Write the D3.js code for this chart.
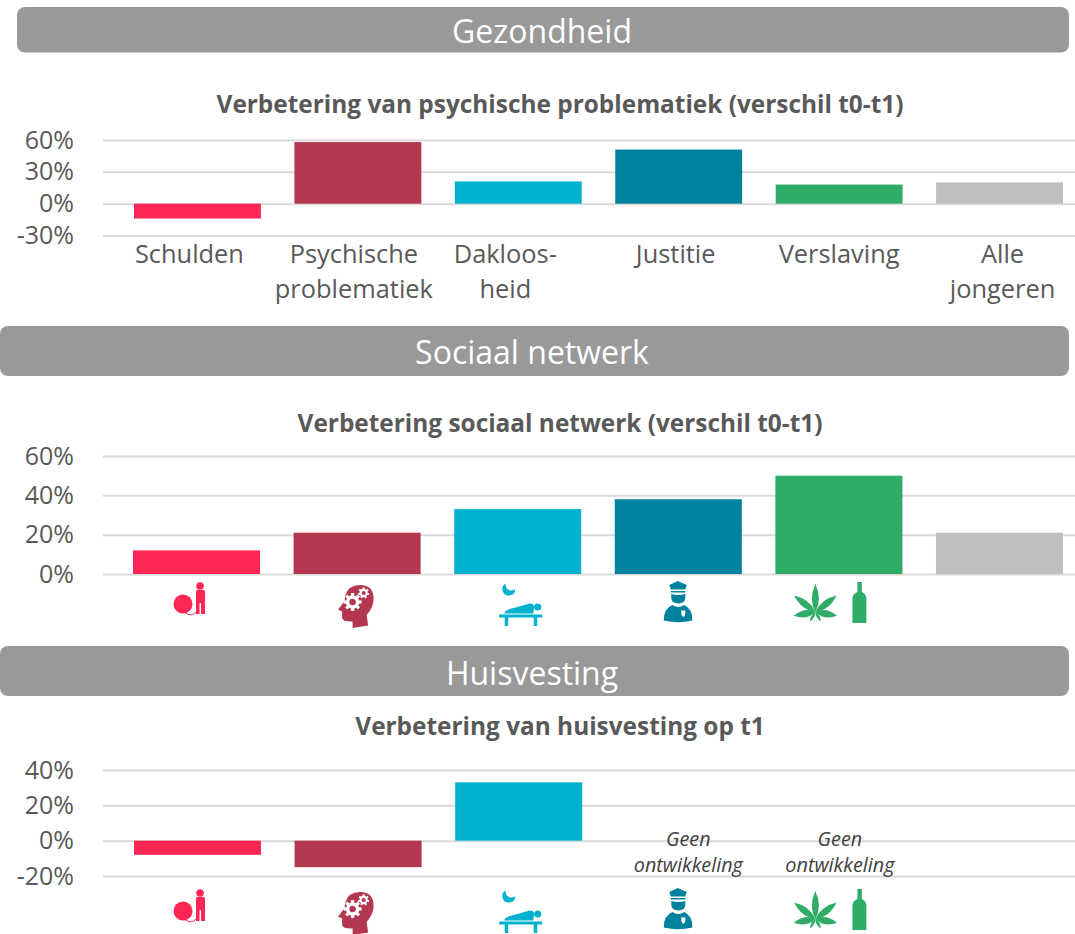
<!DOCTYPE html>
<html>
<head>
<meta charset="utf-8">
<script src="https://d3js.org/d3.v7.min.js"></script>
<style>
html, body { margin: 0; padding: 0; background: #fff; }
svg { display: block; font-family: "Open Sans", sans-serif; }
</style>
</head>
<body>
<svg id="chart" width="1075" height="934"></svg>
<script>
// data
const groups = ["Schulden", "Psychische problematiek", "Dakloosheid", "Justitie", "Verslaving", "Alle jongeren"];
const groupColors = ["#ff2655", "#b2374f", "#00b2ce", "#00829f", "#2fad68", "#bfbfbf"];
const groupLabels = [["Schulden"], ["Psychische", "problematiek"], ["Dakloos-", "heid"], ["Justitie"], ["Verslaving"], ["Alle", "jongeren"]];

const psychischeValues = [-14, 58, 21, 51, 18, 20];
const psychischeTicks = [60, 30, 0, -30];

const netwerkValues = [12, 21, 33, 38, 50, 21];
const netwerkTicks = [60, 40, 20, 0];

const huisvestingValues = [-8, -15, 33, null, null, null];
const huisvestingTicks = [40, 20, 0, -20];

const noDevelopmentLabel = ["Geen", "ontwikkeling"];
const noDevelopmentGroups = ["Justitie", "Verslaving"];

const svg = d3.select("#chart");
const textColor = "#595959";

// grey section bars
function header(text, x0, y0, x1, y1, textX, textY) {
  svg.append("rect").attr("x", x0).attr("y", y0).attr("width", x1 - x0).attr("height", y1 - y0)
    .attr("rx", 8).attr("fill", "#999999");
  svg.append("text").attr("x", textX).attr("y", textY).attr("text-anchor", "middle")
    .attr("dominant-baseline", "central").attr("fill", "#fff").attr("font-size", 32).text(text);
}

function title(text, x, y) {
  svg.append("text").attr("x", x).attr("y", y).attr("text-anchor", "middle")
    .attr("dominant-baseline", "central").attr("fill", textColor)
    .attr("font-size", 24.4).attr("font-weight", 700).text(text);
}

function barChart(values, ticks, xRange, yRange) {
  const x = d3.scaleBand().domain(groups).range(xRange).paddingInner(0.209).paddingOuter(0);
  const y = d3.scaleLinear().domain([ticks[ticks.length - 1], ticks[0]]).range(yRange);

  const axis = d3.axisLeft(y).tickValues(ticks).tickFormat(d => d + "%").tickSize(-972).tickPadding(29);
  const g = svg.append("g").attr("transform", "translate(103,0)").call(axis);
  g.select(".domain").remove();
  g.selectAll(".tick line").attr("stroke", "#d9d9d9").attr("stroke-width", 2);
  g.selectAll(".tick text").attr("fill", textColor).attr("font-size", 25)
    .attr("font-family", '"Open Sans", sans-serif');

  svg.append("g").selectAll("rect")
    .data(values.map((v, i) => ({ v, i })).filter(d => d.v !== null))
    .join("rect")
    .attr("x", d => x(groups[d.i]))
    .attr("y", d => Math.min(y(d.v), y(0)))
    .attr("width", x.bandwidth())
    .attr("height", d => Math.abs(y(d.v) - y(0)))
    .attr("fill", d => groupColors[d.i]);
  return x;
}

// icons, drawn around the middle of each band
function gear(g, cx, cy, r, teeth) {
  g.append("circle").attr("cx", cx).attr("cy", cy).attr("r", r * 0.62)
    .attr("fill", "none").attr("stroke", "#fff").attr("stroke-width", r * 0.42);
  d3.range(teeth).forEach(i => {
    g.append("rect").attr("x", cx - r * 0.2).attr("y", cy - r * 1.12)
      .attr("width", r * 0.4).attr("height", r * 0.4).attr("fill", "#fff")
      .attr("transform", `rotate(${i * 360 / teeth} ${cx} ${cy})`);
  });
}

const iconDrawers = [
  (g, c) => {
    g.append("circle").attr("cx", -13.5).attr("cy", 30).attr("r", 9.5).attr("fill", c);
    g.append("circle").attr("cx", 3.5).attr("cy", 12).attr("r", 3.8).attr("fill", c);
    g.append("path").attr("fill", c).attr("d", "M-0.5 17 Q-0.5 16 1 16 L7 16 Q8.5 16 8.5 17.5 L8.5 40 L4.5 40 L4.5 29 L3 29 L3 40 L-0.5 40 Z");
    g.append("path").attr("fill", "none").attr("stroke", c).attr("stroke-width", 1).attr("d", "M-11 39 Q-5 43 -0.5 38");
  },
  (g, c) => {
    g.append("path").attr("fill", c).attr("d", "M-4.5 54 L11 51.5 L9.5 41 Q16.5 33 16.5 25 Q16.5 11 3 11 Q-9 11 -12 22 L-12.5 27 L-19 35.5 L-15 37.5 L-15 44 Q-14 48 -4.5 47.5 Z");
    gear(g, -4.5, 28, 8, 8);
    gear(g, 6.5, 19, 5, 7);
  },
  (g, c) => {
    g.append("path").attr("fill", c).attr("d", "M-12 9.5 A6.4 6.4 0 1 0 -2.5 15 A5.8 5.8 0 0 1 -12 9.5 Z");
    g.append("circle").attr("cx", 20).attr("cy", 33).attr("r", 3.6).attr("fill", c);
    g.append("path").attr("fill", c).attr("d", "M-13.5 39.5 Q-13 36 -4 34 L12 29.5 Q16 29 16.5 33 L15.5 39.5 Z");
    g.append("path").attr("fill", c).attr("d", "M-18.5 40.5 H24.5 V43.5 H19.5 V52 H16 V43.5 H-9.5 V52 H-13 V43.5 H-18.5 Z");
  },
  (g, c) => {
    g.append("path").attr("fill", c).attr("d", "M-9 11 L-0.5 7 L8.5 11 L7 15.5 H-7.5 Z");
    g.append("path").attr("fill", c).attr("d", "M-7.5 17 H7 V18.5 H-7.5 Z");
    g.append("path").attr("fill", c).attr("d", "M-7 20 Q0 22 7 20 V24 Q7 29 0 29.5 Q-7 29 -7 24 Z");
    g.append("path").attr("fill", c).attr("d", "M-14.5 46.5 Q-15 35 -6 31 Q0 35 6 31 Q14.5 35 14 46.5 Q0 50 -14.5 46.5 Z");
    g.append("path").attr("fill", "#fff").attr("d", "M3 36 Q5 37 7 36 L7 40 Q6.5 42 5 43 Q3.5 42 3 40 Z");
  },
  (g, c) => {
    // leaf, leaflets fanned out from the stem
    const leaf = g.append("g").attr("transform", "translate(-23.5,38)");
    [[0, 28], [52, 27], [-52, 27], [100, 22], [-100, 22], [150, 11], [-150, 11]].forEach(d => {
      const w = d[1] > 20 ? 7 : 3;
      leaf.append("path").attr("fill", c).attr("transform", `rotate(${d[0]})`)
        .attr("d", `M0 0 Q${-w} ${-d[1] * 0.45} 0 ${-d[1]} Q${w} ${-d[1] * 0.45} 0 0 Z`);
    });
    g.append("path").attr("fill", c).attr("d", "M18.5 8 H23 V18 Q27.5 20 27.5 25 V49 H13.5 V25 Q13.5 20 18.5 18 Z");
  }
];

function icons(x, baseY) {
  iconDrawers.forEach((draw, i) => {
    const g = svg.append("g")
      .attr("transform", `translate(${x(groups[i]) + x.bandwidth() / 2},${baseY})`);
    draw(g, groupColors[i]);
  });
}

// Gezondheid
header("Gezondheid", 17, 7, 1069, 52.5, 542, 30);
title("Verbetering van psychische problematiek (verschil t0-t1)", 560, 103);
const x1 = barChart(psychischeValues, psychischeTicks, [134, 1063], [235.5, 140]);
const labelShift = [-8, -4, -13, -3, 0, 3];
groupLabels.forEach((lines, i) => {
  lines.forEach((line, j) => {
    svg.append("text").attr("x", x1(groups[i]) + x1.bandwidth() / 2 + labelShift[i]).attr("y", 253 + j * 35)
      .attr("text-anchor", "middle").attr("dominant-baseline", "central")
      .attr("fill", textColor).attr("font-size", 25.4).text(line);
  });
});

// Sociaal netwerk
header("Sociaal netwerk", 0, 326, 1069, 376, 532, 351);
title("Verbetering sociaal netwerk (verschil t0-t1)", 560, 422);
const x2 = barChart(netwerkValues, netwerkTicks, [133, 1063], [574, 456]);
icons(x2, 574);

// Huisvesting
header("Huisvesting", 0, 646, 1069, 696, 532, 672);
title("Verbetering van huisvesting op t1", 560, 725);
const x3 = barChart(huisvestingValues, huisvestingTicks, [134, 1064], [876, 770]);
icons(x2, 881);

noDevelopmentGroups.forEach((name, k) => {
  noDevelopmentLabel.forEach((line, j) => {
    svg.append("text").attr("x", x3(name) + x3.bandwidth() / 2 + (k === 0 ? 9 : 0)).attr("y", 838 + j * 26)
      .attr("text-anchor", "middle").attr("dominant-baseline", "central")
      .attr("fill", "#404040").attr("font-size", 19.8).attr("font-style", "italic").text(line);
  });
});
</script>
</body>
</html>
